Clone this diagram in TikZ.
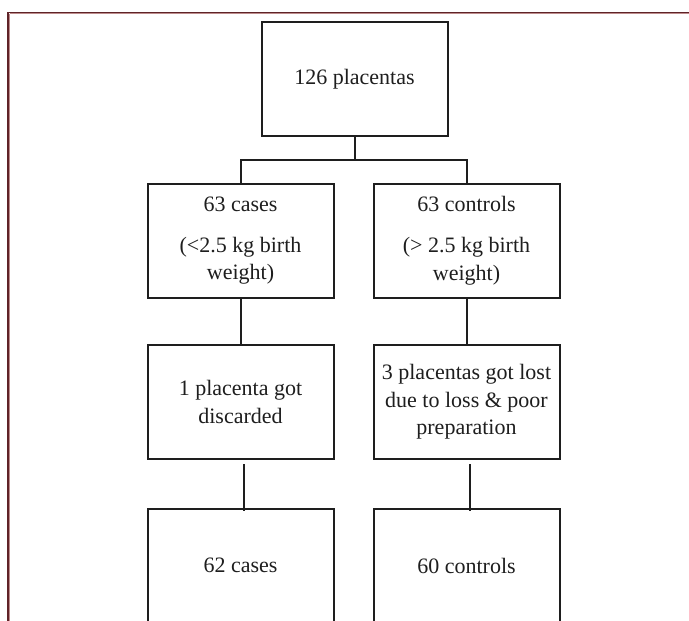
\documentclass[tikz,border=0pt]{standalone}
\usepackage{fontspec}
\setmainfont{Liberation Serif}
\definecolor{framedark}{RGB}{95,35,40}
\definecolor{framelight}{RGB}{190,140,140}
\definecolor{ink}{RGB}{30,30,30}
\begin{document}
\begin{tikzpicture}[x=1pt,y=-1pt,
  box/.style={draw=ink,text=ink,line width=2pt,minimum width=186pt,minimum height=114pt,
    inner sep=0pt,align=center,font=\fontsize{22}{27.5}\selectfont},
  link/.style={draw=ink,line width=2pt},
  framedk/.style={draw=framedark,line width=1.2pt},
  framelt/.style={draw=framelight,line width=1pt}]
\path[use as bounding box,clip] (0,0) rectangle (689,621);
\fill[white] (0,0) rectangle (689,621);
% outer frame
\draw[framelt] (9.5,13.6) -- (689,13.6);
\draw[framelt] (9.6,13.6) -- (9.6,621);
\draw[framedk] (8,12.3) -- (689,12.3);
\draw[framedk] (8,12.3) -- (8,621);
% boxes
\node[box] (top) at (354.5,79) {\raisebox{-3pt}{126 placentas}};
\node[box] (l2) at (240.5,240.5) {63 cases\\[13.5pt](<2.5 kg birth\\weight)};
\node[box] (r2) at (466.5,240.5) {63 controls\\[13.5pt](> 2.5 kg birth\\weight)};
\node[box] (l3) at (240.5,402) {1 placenta got\\discarded};
\node[box] (r3) at (466.5,402) {3 placentas got lost\\due to loss \& poor\\preparation};
\node[box] (l4) at (240.5,565.5) {62 cases};
\node[box] (r4) at (466.5,565.5) {60 controls};
% connectors
\coordinate (split) at (354.5,160);
\draw[link] (top.south) -- (split);
\draw[link] (l2.north) |- (split) -| (r2.north);
\draw[link] (l2) -- (l3);
\draw[link] (r2) -- (r3);
\draw[link] ([xshift=3pt,yshift=-4pt]l3.south) -- ([xshift=3pt,yshift=-3pt]l4.north);
\draw[link] ([xshift=3pt,yshift=-4pt]r3.south) -- ([xshift=3pt,yshift=-3pt]r4.north);
\end{tikzpicture}
\end{document}
